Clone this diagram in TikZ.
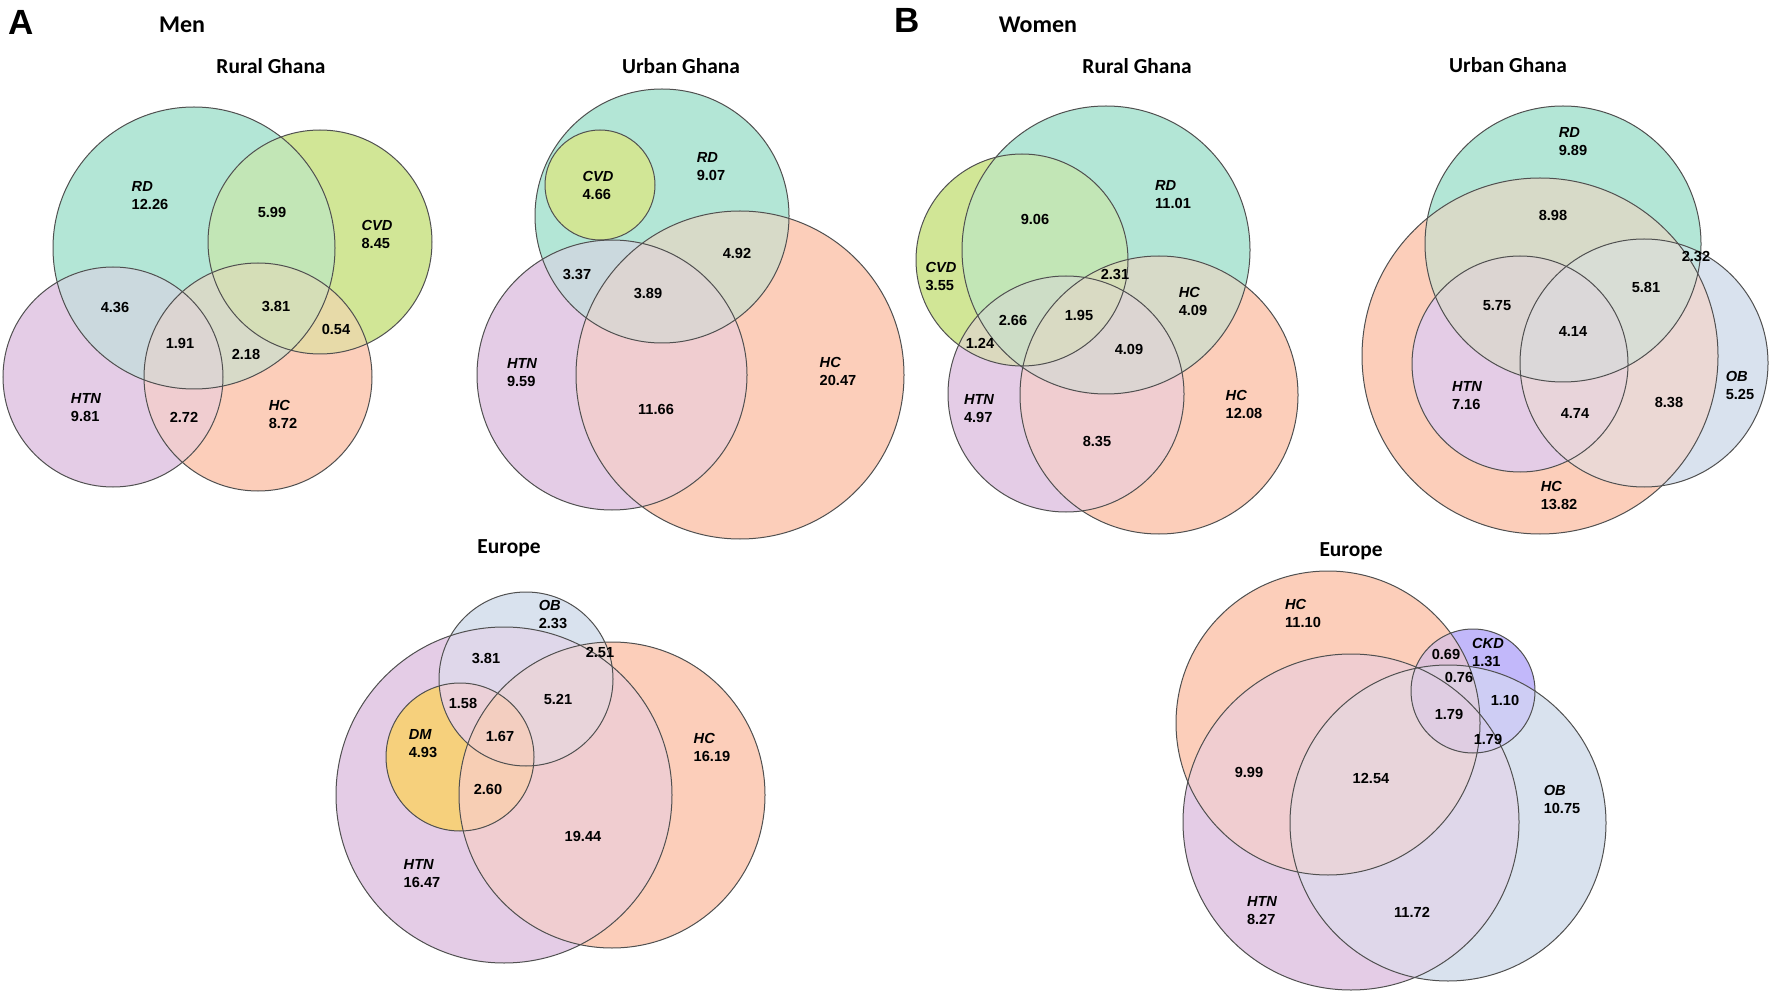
\documentclass[tikz,border=0pt]{standalone}
\usepackage{fontspec}
\setmainfont{Liberation Sans}
\newfontfamily\calfont{Carlito}
\definecolor{rdc}{HTML}{B3E6D6}
\definecolor{cvdc}{HTML}{D1E696}
\definecolor{htnc}{HTML}{E4CCE6}
\definecolor{hcc}{HTML}{FCCEBA}
\definecolor{obc}{HTML}{D9E2EE}
\definecolor{dmc}{HTML}{F6D07C}
\definecolor{ckdc}{HTML}{C2B8FA}
\definecolor{edgec}{HTML}{505050}

% circles of each diagram (pixel coordinates)
\tikzset{
  % men, rural Ghana
  mrRD/.style={insert path={(194,248) circle (141)}},
  mrCVD/.style={insert path={(320,242) circle (112)}},
  mrHTN/.style={insert path={(113,377) circle (110)}},
  mrHC/.style={insert path={(258,377) circle (114)}},
  % men, urban Ghana
  muRD/.style={insert path={(662,216) circle (127)}},
  muCVD/.style={insert path={(600,185) circle (55)}},
  muHTN/.style={insert path={(612,375) circle (135)}},
  muHC/.style={insert path={(740,375) circle (164)}},
  % men, Europe
  meOB/.style={insert path={(526,679) circle (87)}},
  meHTN/.style={insert path={(504,795) circle (168)}},
  meHC/.style={insert path={(612,795) circle (153)}},
  meDM/.style={insert path={(460,757) circle (74)}},
  % women, rural Ghana
  wrRD/.style={insert path={(1106,250) circle (144)}},
  wrCVD/.style={insert path={(1022,260) circle (106)}},
  wrHTN/.style={insert path={(1066,394) circle (118)}},
  wrHC/.style={insert path={(1159,395) circle (139)}},
  % women, urban Ghana
  wuRD/.style={insert path={(1563,244) circle (138)}},
  wuHC/.style={insert path={(1540,356) circle (178)}},
  wuOB/.style={insert path={(1644,363) circle (124)}},
  wuHTN/.style={insert path={(1520,364) circle (108)}},
  % women, Europe
  weHC/.style={insert path={(1328,723) circle (152)}},
  weHTN/.style={insert path={(1351,822) circle (168)}},
  weOB/.style={insert path={(1448,823) circle (158)}},
  weCKD/.style={insert path={(1473,691) circle (62)}},
}

\begin{document}
\begin{tikzpicture}[x=0.5pt, y=-0.5pt,
    num/.style={font=\fontsize{7.3}{9}\selectfont\bfseries, inner sep=0pt},
    lbl/.style={num, align=left},
    title/.style={font=\calfont\fontsize{10.7}{12}\selectfont\bfseries, inner sep=0pt, anchor=base},
    group/.style={font=\calfont\fontsize{12}{14}\selectfont\bfseries, inner sep=0pt, anchor=base},
    panel/.style={font=\fontsize{17.5}{20}\selectfont\bfseries, inner sep=0pt, anchor=base},
    edge/.style={draw=edgec, line width=0.5pt}]

    \useasboundingbox (0,0) rectangle (1772,994);

    % Panel headings
    \node[panel] (panelA) at (21,35) {A};
    \node[group] (men) at (182,33) {Men};
    \node[panel] (panelB) at (907,33) {B};
    \node[group] (women) at (1038,33) {Women};

    % ---------------- Men, rural Ghana ----------------
    \node[title] (mrTitle) at (271,74) {Rural Ghana};
    \fill[rdc, mrRD];
    \fill[cvdc, mrCVD];
    \fill[htnc, mrHTN];
    \fill[hcc, mrHC];
    \begin{scope} \clip[mrRD]; \fill[rdc!50!cvdc, mrCVD]; \end{scope}
    \begin{scope} \clip[mrRD]; \fill[rdc!50!htnc, mrHTN]; \end{scope}
    \begin{scope} \clip[mrRD]; \fill[rdc!50!hcc, mrHC]; \end{scope}
    \begin{scope} \clip[mrCVD]; \fill[cvdc!50!hcc, mrHC]; \end{scope}
    \begin{scope} \clip[mrHTN]; \fill[htnc!50!hcc, mrHC]; \end{scope}
    \begin{scope} \clip[mrRD]; \clip[mrCVD]; \fill[rdc!50!cvdc!67!hcc, mrHC]; \end{scope}
    \begin{scope} \clip[mrRD]; \clip[mrHTN]; \fill[rdc!50!htnc!67!hcc, mrHC]; \end{scope}
    \draw[edge, mrRD];
    \draw[edge, mrCVD];
    \draw[edge, mrHTN];
    \draw[edge, mrHC];

    \node[lbl] (mrRDl) at (150,196) {{\itshape RD}\\12.26};
    \node[lbl] (mrCVDl) at (377,234) {{\itshape CVD}\\8.45};
    \node[lbl] (mrHTNl) at (86,408) {{\itshape HTN}\\9.81};
    \node[lbl] (mrHCl) at (283,414) {{\itshape HC}\\8.72};
    \node[num] (mrRDCVD) at (272,212) {5.99};
    \node[num] (mrRDHTN) at (115,307) {4.36};
    \node[num] (mrRDCVDHC) at (276,306) {3.81};
    \node[num] (mrCVDHC) at (336,329) {0.54};
    \node[num] (mrRDHTNHC) at (180,343) {1.91};
    \node[num] (mrRDHC) at (246,354) {2.18};
    \node[num] (mrHTNHC) at (184,417) {2.72};

    % ---------------- Men, urban Ghana ----------------
    \node[title] (muTitle) at (681,74) {Urban Ghana};
    \fill[rdc, muRD];
    \fill[htnc, muHTN];
    \fill[hcc, muHC];
    \fill[cvdc, muCVD];
    \begin{scope} \clip[muRD]; \fill[rdc!50!htnc, muHTN]; \end{scope}
    \begin{scope} \clip[muRD]; \fill[rdc!50!hcc, muHC]; \end{scope}
    \begin{scope} \clip[muHTN]; \fill[htnc!50!hcc, muHC]; \end{scope}
    \begin{scope} \clip[muRD]; \clip[muHTN]; \fill[rdc!50!htnc!67!hcc, muHC]; \end{scope}
    \draw[edge, muRD];
    \draw[edge, muCVD];
    \draw[edge, muHTN];
    \draw[edge, muHC];

    \node[lbl] (muCVDl) at (598,185) {{\itshape CVD}\\4.66};
    \node[lbl] (muRDl) at (711,167) {{\itshape RD}\\9.07};
    \node[lbl] (muHTNl) at (522,373) {{\itshape HTN}\\9.59};
    \node[lbl] (muHCl) at (838,371) {{\itshape HC}\\20.47};
    \node[num] (muRDHC) at (737,253) {4.92};
    \node[num] (muRDHTN) at (577,274) {3.37};
    \node[num] (muRDHTNHC) at (648,293) {3.89};
    \node[num] (muHTNHC) at (656,409) {11.66};

    % ---------------- Men, Europe ----------------
    \node[title] (meTitle) at (509,553) {Europe};
    \fill[obc, meOB];
    \fill[htnc, meHTN];
    \fill[hcc, meHC];
    \begin{scope} \clip[meOB]; \fill[obc!50!htnc, meHTN]; \end{scope}
    \begin{scope} \clip[meOB]; \fill[obc!50!hcc, meHC]; \end{scope}
    \begin{scope} \clip[meHTN]; \fill[htnc!50!hcc, meHC]; \end{scope}
    \fill[dmc, meDM];
    \begin{scope} \clip[meOB]; \clip[meHTN]; \fill[obc!50!htnc!67!hcc, meHC]; \end{scope}
    \begin{scope} \clip[meOB]; \fill[htnc!60!hcc!85!obc, meDM]; \end{scope}
    \begin{scope} \clip[meHC]; \fill[hcc!75!dmc!85!htnc, meDM]; \end{scope}
    \begin{scope} \clip[meOB]; \clip[meHC]; \fill[hcc!60!htnc!85!dmc, meDM]; \end{scope}
    \draw[edge, meOB];
    \draw[edge, meHTN];
    \draw[edge, meHC];
    \draw[edge, meDM];

    \node[lbl] (meOBl) at (553,614) {{\itshape OB}\\2.33};
    \node[lbl] (meDMl) at (423,744) {{\itshape DM}\\4.93};
    \node[lbl] (meHCl) at (712,747) {{\itshape HC}\\16.19};
    \node[lbl] (meHTNl) at (422,874) {{\itshape HTN}\\16.47};
    \node[num] (meOBHTN) at (486,658) {3.81};
    \node[num] (meOBHC) at (600,652) {2.51};
    \node[num] (meOBHTNDM) at (463,703) {1.58};
    \node[num] (meOBHTNHC) at (558,699) {5.21};
    \node[num] (meAll) at (500,736) {1.67};
    \node[num] (meDMHC) at (488,789) {2.60};
    \node[num] (meHTNHC) at (583,836) {19.44};

    % ---------------- Women, rural Ghana ----------------
    \node[title] (wrTitle) at (1137,74) {Rural Ghana};
    \fill[rdc, wrRD];
    \fill[cvdc, wrCVD];
    \fill[htnc, wrHTN];
    \fill[hcc, wrHC];
    \begin{scope} \clip[wrRD]; \fill[rdc!50!cvdc, wrCVD]; \end{scope}
    \begin{scope} \clip[wrRD]; \fill[rdc!50!htnc, wrHTN]; \end{scope}
    \begin{scope} \clip[wrRD]; \fill[rdc!50!hcc, wrHC]; \end{scope}
    \begin{scope} \clip[wrCVD]; \fill[cvdc!50!htnc, wrHTN]; \end{scope}
    \begin{scope} \clip[wrCVD]; \fill[cvdc!50!hcc, wrHC]; \end{scope}
    \begin{scope} \clip[wrHTN]; \fill[htnc!50!hcc, wrHC]; \end{scope}
    \begin{scope} \clip[wrRD]; \clip[wrCVD]; \fill[rdc!50!cvdc!67!htnc, wrHTN]; \end{scope}
    \begin{scope} \clip[wrRD]; \clip[wrCVD]; \fill[rdc!50!cvdc!67!hcc, wrHC]; \end{scope}
    \begin{scope} \clip[wrRD]; \clip[wrHTN]; \fill[rdc!50!htnc!67!hcc, wrHC]; \end{scope}
    \begin{scope} \clip[wrCVD]; \clip[wrHTN]; \fill[cvdc!50!htnc!67!hcc, wrHC]; \end{scope}
    \begin{scope} \clip[wrRD]; \clip[wrCVD]; \clip[wrHTN]; \fill[rdc!50!cvdc!67!htnc!75!hcc, wrHC]; \end{scope}
    \draw[edge, wrRD];
    \draw[edge, wrCVD];
    \draw[edge, wrHTN];
    \draw[edge, wrHC];

    \node[lbl] (wrRDl) at (1173,195) {{\itshape RD}\\11.01};
    \node[lbl] (wrCVDl) at (941,276) {{\itshape CVD}\\3.55};
    \node[lbl] (wrRDHCl) at (1193,301) {{\itshape HC}\\4.09};
    \node[lbl] (wrHTNl) at (979,409) {{\itshape HTN}\\4.97};
    \node[lbl] (wrHCl) at (1244,404) {{\itshape HC}\\12.08};
    \node[num] (wrRDCVD) at (1035,219) {9.06};
    \node[num] (wrRDCVDHC) at (1115,274) {2.31};
    \node[num] (wrRDCVDHTN) at (1013,320) {2.66};
    \node[num] (wrAll) at (1079,315) {1.95};
    \node[num] (wrCVDHTN) at (980,343) {1.24};
    \node[num] (wrRDHTNHC) at (1129,349) {4.09};
    \node[num] (wrHTNHC) at (1097,441) {8.35};

    % ---------------- Women, urban Ghana ----------------
    \node[title] (wuTitle) at (1508,73) {Urban Ghana};
    \fill[rdc, wuRD];
    \fill[hcc, wuHC];
    \fill[obc, wuOB];
    \begin{scope} \clip[wuRD]; \fill[rdc!50!hcc, wuHC]; \end{scope}
    \begin{scope} \clip[wuRD]; \fill[rdc!50!obc, wuOB]; \end{scope}
    \begin{scope} \clip[wuHC]; \fill[hcc!50!obc, wuOB]; \end{scope}
    \begin{scope} \clip[wuRD]; \clip[wuHC]; \fill[rdc!50!hcc!67!obc, wuOB]; \end{scope}
    \fill[htnc, wuHTN];
    \begin{scope} \clip[wuRD]; \fill[rdc!50!htnc!67!hcc, wuHTN]; \end{scope}
    \begin{scope} \clip[wuOB]; \fill[obc!50!htnc!67!hcc, wuHTN]; \end{scope}
    \begin{scope} \clip[wuRD]; \clip[wuOB]; \fill[rdc!50!hcc!67!obc!75!htnc, wuHTN]; \end{scope}
    \draw[edge, wuRD];
    \draw[edge, wuHC];
    \draw[edge, wuOB];
    \draw[edge, wuHTN];

    \node[lbl] (wuRDl) at (1573,142) {{\itshape RD}\\9.89};
    \node[lbl] (wuHTNl) at (1467,396) {{\itshape HTN}\\7.16};
    \node[lbl] (wuOBl) at (1740,385) {{\itshape OB}\\5.25};
    \node[lbl] (wuHCl) at (1559,495) {{\itshape HC}\\13.82};
    \node[num] (wuRDHC) at (1553,215) {8.98};
    \node[num] (wuRDOB) at (1696,256) {2.32};
    \node[num] (wuRDHCOB) at (1646,287) {5.81};
    \node[num] (wuRDHCHTN) at (1497,306) {5.75};
    \node[num] (wuAll) at (1573,331) {4.14};
    \node[num] (wuHTNOB) at (1575,413) {4.74};
    \node[num] (wuHCOB) at (1669,402) {8.38};

    % ---------------- Women, Europe ----------------
    \node[title] (weTitle) at (1351,556) {Europe};
    \fill[hcc, weHC];
    \fill[htnc, weHTN];
    \fill[obc, weOB];
    \fill[ckdc, weCKD];
    \begin{scope} \clip[weHC]; \fill[hcc!50!htnc, weHTN]; \end{scope}
    \begin{scope} \clip[weHC]; \fill[hcc!50!obc, weOB]; \end{scope}
    \begin{scope} \clip[weHTN]; \fill[htnc!50!obc, weOB]; \end{scope}
    \begin{scope} \clip[weHC]; \fill[hcc!50!ckdc, weCKD]; \end{scope}
    \begin{scope} \clip[weOB]; \fill[obc!50!ckdc, weCKD]; \end{scope}
    \begin{scope} \clip[weHTN]; \fill[htnc!50!ckdc, weCKD]; \end{scope}
    \begin{scope} \clip[weHC]; \clip[weHTN]; \fill[hcc!50!htnc!67!obc, weOB]; \end{scope}
    \begin{scope} \clip[weHC]; \clip[weOB]; \fill[hcc!50!obc!67!ckdc, weCKD]; \end{scope}
    \begin{scope} \clip[weHTN]; \clip[weOB]; \fill[htnc!50!obc!67!ckdc, weCKD]; \end{scope}
    \begin{scope} \clip[weHC]; \clip[weHTN]; \fill[hcc!50!htnc!67!ckdc, weCKD]; \end{scope}
    \begin{scope} \clip[weHC]; \clip[weHTN]; \clip[weOB]; \fill[hcc!50!htnc!67!obc!75!ckdc, weCKD]; \end{scope}
    \draw[edge, weHC];
    \draw[edge, weHTN];
    \draw[edge, weOB];
    \draw[edge, weCKD];

    \node[lbl] (weHCl) at (1303,613) {{\itshape HC}\\11.10};
    \node[lbl] (weCKDl) at (1488,652) {{\itshape CKD}\\1.31};
    \node[lbl] (weOBl) at (1562,799) {{\itshape OB}\\10.75};
    \node[lbl] (weHTNl) at (1262,911) {{\itshape HTN}\\8.27};
    \node[num] (weHCCKD) at (1446,654) {0.69};
    \node[num] (weHCOBCKD) at (1459,677) {0.76};
    \node[num] (weOBCKD) at (1505,700) {1.10};
    \node[num] (weAll) at (1449,714) {1.79};
    \node[num] (weHTNOBCKD) at (1488,739) {1.79};
    \node[num] (weHCHTN) at (1249,772) {9.99};
    \node[num] (weHCHTNOB) at (1371,778) {12.54};
    \node[num] (weHTNOB) at (1412,912) {11.72};

\end{tikzpicture}
\end{document}
